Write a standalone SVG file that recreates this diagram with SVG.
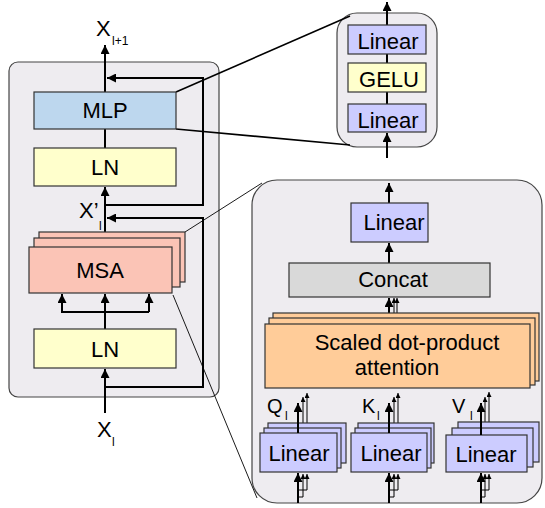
<svg xmlns="http://www.w3.org/2000/svg" width="545" height="508" viewBox="0 0 545 508">
<style>
text{font-family:"Liberation Sans",Arial,sans-serif;fill:#000}
.panel{fill:#eeecf0;stroke:#444;stroke-width:1.2}
.box{stroke:#333;stroke-width:1.2}
.lin{fill:#ccccff}
.ln{fill:#ffffcc}
.mlp{fill:#bdd7ee}
.msa{fill:#fbc4b6}
.cat{fill:#d9d9d9}
.sdp{fill:#ffcc99}
.c{fill:none;stroke:#000;stroke-width:2}
.t{fill:none;stroke:#000;stroke-width:1}
.z{fill:none;stroke:#000}
.lab{font-size:22px}
.sub{font-size:12px}
.bt{font-size:22px;text-anchor:middle}
</style>
<defs>
<marker id="ah" viewBox="0 0 10 10" refX="10" refY="5" markerWidth="10" markerHeight="9" markerUnits="userSpaceOnUse" orient="auto"><path d="M0,0 L10,5 L0,10 z" fill="#000"/></marker>
<marker id="as" viewBox="0 0 10 10" refX="10" refY="5" markerWidth="6" markerHeight="5" markerUnits="userSpaceOnUse" orient="auto"><path d="M0,0 L10,5 L0,10 z" fill="#000"/></marker>
</defs>

<g id="encoder-panel"><rect class="panel" x="9" y="62" width="210" height="335" rx="9"/></g>
<g id="mlp-panel"><rect class="panel" x="337" y="13" width="100" height="134" rx="20"/></g>
<g id="msa-panel"><rect class="panel" x="252" y="180" width="290" height="323" rx="25"/></g>

<g id="zoom-lines">
<line class="z" stroke-width="1.6" x1="176" y1="92" x2="350" y2="16"/>
<line class="z" stroke-width="1.6" x1="176" y1="129" x2="350" y2="145"/>
<line class="z" stroke-width="0.9" x1="185" y1="232" x2="262" y2="183"/>
<line class="z" stroke-width="0.9" x1="173" y1="295" x2="257" y2="498"/>
</g>

<g id="connectors">
<line class="c" x1="105" y1="92" x2="105" y2="45" marker-end="url(#ah)"/>
<line class="c" x1="105" y1="129" x2="105" y2="148"/>
<line class="c" x1="105" y1="233" x2="105" y2="187" marker-end="url(#ah)"/>
<polyline class="c" points="105,205 203,205 203,78 107,78" marker-end="url(#ah)"/>
<polyline class="c" points="105,387 203,387 203,218 107,218" marker-end="url(#ah)"/>
<line class="c" x1="105" y1="329" x2="105" y2="312"/>
<line class="c" x1="61" y1="312" x2="149" y2="312"/>
<line class="c" x1="62" y1="312" x2="62" y2="294" marker-end="url(#ah)"/>
<line class="c" x1="105" y1="312" x2="105" y2="294" marker-end="url(#ah)"/>
<line class="c" x1="149" y1="312" x2="149" y2="294" marker-end="url(#ah)"/>
<line class="c" x1="105" y1="413" x2="105" y2="369" marker-end="url(#ah)"/>

<line class="c" x1="387" y1="25" x2="387" y2="2" marker-end="url(#ah)"/>
<line class="c" x1="387" y1="54" x2="387" y2="63"/>
<line class="c" x1="387" y1="92" x2="387" y2="104"/>
<line class="c" x1="387" y1="158" x2="387" y2="133" marker-end="url(#ah)"/>

<line class="c" x1="389" y1="203" x2="389" y2="183" marker-end="url(#ah)"/>
<line class="c" x1="389" y1="263" x2="389" y2="243" marker-end="url(#ah)"/>
<line class="t" x1="394" y1="318" x2="394" y2="298" marker-end="url(#as)"/>
<line class="t" x1="397" y1="313" x2="397" y2="298" marker-end="url(#as)"/>
<line class="c" x1="389" y1="324" x2="389" y2="298" marker-end="url(#ah)"/>

<line class="t" x1="303" y1="428" x2="303" y2="397" marker-end="url(#as)"/>
<line class="t" x1="307" y1="423" x2="307" y2="393" marker-end="url(#as)"/>
<line class="t" x1="394" y1="428" x2="394" y2="397" marker-end="url(#as)"/>
<line class="t" x1="398" y1="423" x2="398" y2="393" marker-end="url(#as)"/>
<line class="t" x1="485" y1="428" x2="485" y2="397" marker-end="url(#as)"/>
<line class="t" x1="489" y1="422" x2="489" y2="392" marker-end="url(#as)"/>

<polyline class="t" points="298,497 303,497 303,474" marker-end="url(#as)"/>
<polyline class="t" points="298,490 307,490 307,474" marker-end="url(#as)"/>
<line class="c" x1="298" y1="503" x2="298" y2="473" marker-end="url(#ah)"/>
<polyline class="t" points="389,497 394,497 394,474" marker-end="url(#as)"/>
<polyline class="t" points="389,490 398,490 398,474" marker-end="url(#as)"/>
<line class="c" x1="389" y1="503" x2="389" y2="473" marker-end="url(#ah)"/>
<polyline class="t" points="481,497 485,497 485,474" marker-end="url(#as)"/>
<polyline class="t" points="481,490 489,490 489,474" marker-end="url(#as)"/>
<line class="c" x1="481" y1="503" x2="481" y2="473" marker-end="url(#ah)"/>
</g>

<g id="mlp"><rect class="box mlp" x="34" y="92" width="142" height="37"/><text class="bt" x="105" y="118">MLP</text></g>
<g id="ln-top"><rect class="box ln" x="34" y="148" width="142" height="38"/><text class="bt" x="105" y="175">LN</text></g>
<g id="msa">
<rect class="box msa" x="39" y="232" width="146" height="50"/>
<rect class="box msa" x="34" y="238" width="146" height="49"/>
<rect class="box msa" x="29" y="247" width="143" height="46"/>
<text class="bt" x="100" y="278">MSA</text>
</g>
<g id="ln-bottom"><rect class="box ln" x="34" y="329" width="142" height="39"/><text class="bt" x="105" y="357">LN</text></g>

<g id="label-xl1"><text class="lab" x="96" y="36">X</text><text class="sub" x="112" y="45">l+1</text></g>
<g id="label-xpl"><text class="lab" x="79" y="218">X’</text><text class="sub" x="99" y="230">l</text></g>
<g id="label-xl"><text class="lab" x="97" y="437">X</text><text class="sub" x="112" y="446">l</text></g>

<g id="mlp-linear-top"><rect class="box lin" x="348" y="25" width="78" height="29"/><text class="bt" x="388" y="49">Linear</text></g>
<g id="mlp-gelu"><rect class="box ln" x="348" y="63" width="78" height="29"/><text class="bt" x="389" y="87">GELU</text></g>
<g id="mlp-linear-bottom"><rect class="box lin" x="348" y="104" width="78" height="28"/><text class="bt" x="388" y="128">Linear</text></g>

<g id="msa-linear"><rect class="box lin" x="351" y="203" width="77" height="39"/><text class="bt" x="394" y="230">Linear</text></g>
<g id="concat"><rect class="box cat" x="289" y="263" width="201" height="34"/><text class="bt" x="393" y="287">Concat</text></g>
<g id="sdpa">
<rect class="box sdp" x="273" y="313" width="266" height="68"/>
<rect class="box sdp" x="269" y="318" width="266" height="67"/>
<rect class="box sdp" x="265" y="324" width="265" height="64"/>
<text class="bt" x="407" y="350">Scaled dot-product</text>
<text class="bt" x="397" y="375">attention</text>
</g>

<g id="linear-q">
<rect class="box lin" x="268" y="423" width="78" height="40"/>
<rect class="box lin" x="264" y="428" width="77" height="40"/>
<rect class="box lin" x="260" y="433" width="77" height="39"/>
<text class="bt" x="299" y="461">Linear</text>
</g>
<g id="linear-k">
<rect class="box lin" x="358" y="423" width="76" height="40"/>
<rect class="box lin" x="355" y="428" width="76" height="40"/>
<rect class="box lin" x="351" y="433" width="76" height="39"/>
<text class="bt" x="391" y="461">Linear</text>
</g>
<g id="linear-v">
<rect class="box lin" x="458" y="422" width="81" height="40"/>
<rect class="box lin" x="452" y="428" width="81" height="39"/>
<rect class="box lin" x="446" y="435" width="81" height="37"/>
<text class="bt" x="486" y="462">Linear</text>
</g>

<g id="qkv-arrows">
<line class="c" x1="298" y1="433" x2="298" y2="403" marker-end="url(#ah)"/>
<line class="c" x1="389" y1="433" x2="389" y2="403" marker-end="url(#ah)"/>
<line class="c" x1="481" y1="435" x2="481" y2="403" marker-end="url(#ah)"/>
</g>

<g id="label-q"><text x="267" y="413" style="font-size:20px">Q</text><text class="sub" x="285" y="420">l</text></g>
<g id="label-k"><text x="362" y="413" style="font-size:20px">K</text><text class="sub" x="377" y="420">l</text></g>
<g id="label-v"><text x="452" y="413" style="font-size:20px">V</text><text class="sub" x="470" y="420">l</text></g>
</svg>
